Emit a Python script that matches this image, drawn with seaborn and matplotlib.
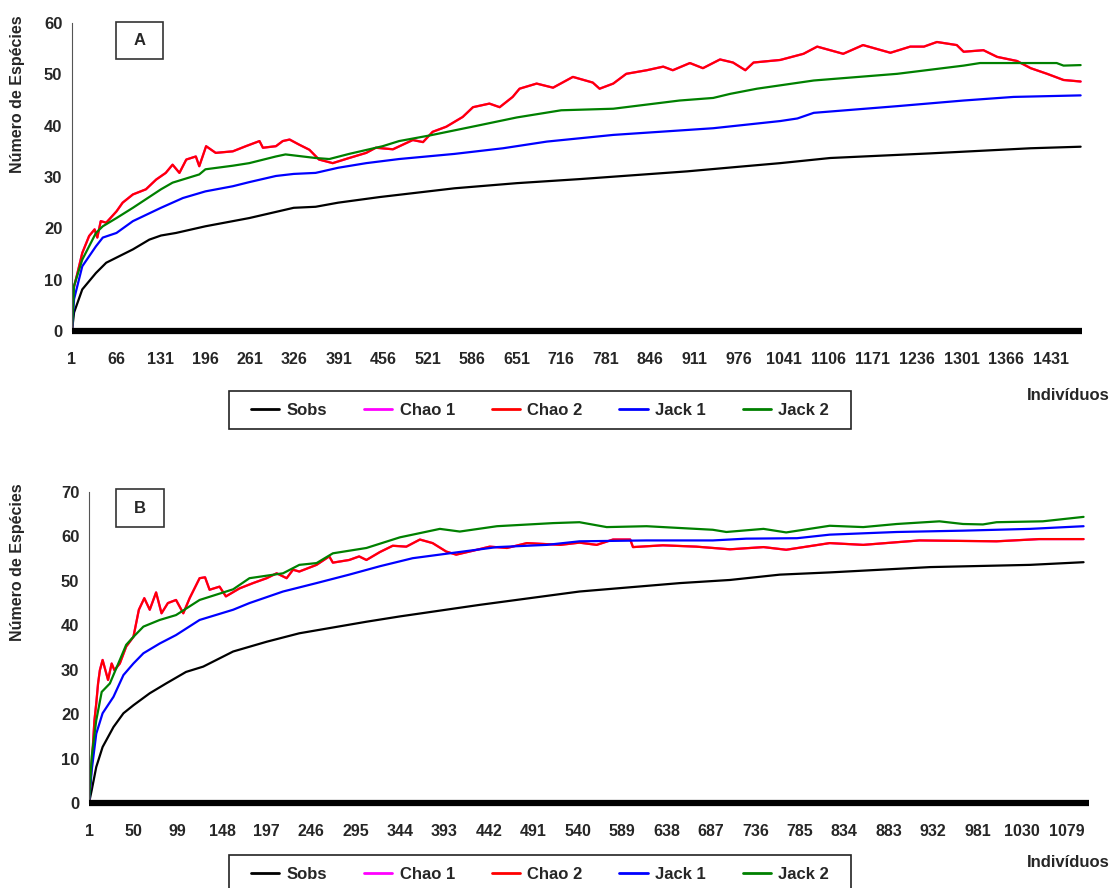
import numpy as np
import pandas as pd
import seaborn as sns
import matplotlib
matplotlib.use("Agg")
from matplotlib import pyplot as plt
from matplotlib import font_manager
from matplotlib.lines import Line2D
from matplotlib.patches import Rectangle

# ---- data ----
series_names = ['Sobs', 'Chao 1', 'Chao 2', 'Jack 1', 'Jack 2']
series_colors = ['#000000', '#FF00FF', '#FF0000', '#0000FF', '#008000']

# panel A
a_sobs_x = [1, 4, 16, 36, 51, 66, 90, 114, 131, 153, 196, 260, 325, 357, 390, 451, 560, 651, 744, 900, 976, 1036, 1109, 1255, 1402, 1475]
a_sobs_y = [0, 3.6, 8.1, 11.3, 13.3, 14.3, 15.9, 17.8, 18.6, 19.1, 20.4, 22.0, 24.0, 24.2, 25.0, 26.1, 27.8, 28.8, 29.6, 31.1, 32.0, 32.7, 33.7, 34.6, 35.6, 35.9]

a_jack1_x = [1, 4, 16, 36, 46, 66, 90, 131, 163, 196, 236, 260, 299, 325, 357, 390, 431, 479, 560, 631, 695, 792, 938, 1036, 1061, 1085, 1207, 1304, 1377, 1475]
a_jack1_y = [0, 6.2, 12.6, 16.5, 18.2, 19.1, 21.4, 24.0, 25.9, 27.2, 28.2, 29.0, 30.2, 30.6, 30.8, 31.8, 32.7, 33.5, 34.5, 35.6, 36.9, 38.2, 39.5, 40.9, 41.4, 42.5, 43.8, 44.9, 45.6, 45.9]

a_jack2_x = [1, 4, 16, 36, 46, 66, 90, 131, 148, 187, 196, 236, 260, 299, 313, 357, 377, 406, 455, 479, 524, 597, 651, 716, 792, 889, 938, 963, 1002, 1085, 1207, 1304, 1328, 1440, 1450, 1475]
a_jack2_y = [0, 8.8, 13.9, 19.1, 20.4, 22.0, 24.0, 27.6, 28.9, 30.5, 31.5, 32.2, 32.7, 34.0, 34.4, 33.7, 33.5, 34.5, 36.0, 37.0, 38.1, 40.1, 41.6, 43.0, 43.3, 44.9, 45.4, 46.2, 47.2, 48.8, 50.1, 51.7, 52.2, 52.2, 51.7, 51.8]

a_chao2_x = [1, 3, 9, 16, 26, 34, 38, 43, 51, 66, 75, 90, 109, 124, 138, 148, 158, 168, 182, 187,
             197, 211, 236, 255, 275, 280, 299, 309, 319, 333, 348, 362, 382, 406, 431, 445, 470, 499, 514, 528,
             548, 572, 587, 611, 626, 645, 655, 680, 704, 733, 762, 772, 792, 811, 841, 865, 879, 904, 923, 948,
             967, 985, 997, 1036, 1070, 1090, 1109, 1128, 1157, 1197, 1226, 1246, 1265, 1294, 1304, 1333, 1353, 1382, 1402, 1426,
             1450, 1475]
a_chao2_y = [0, 8.1, 11.3, 15.2, 18.5, 19.8, 18.2, 21.4, 21.1, 23.3, 25.0, 26.6, 27.6, 29.5, 30.8, 32.4, 30.8, 33.4, 34.0, 32.1,
             36.0, 34.7, 35.0, 36.0, 37.0, 35.7, 36.0, 37.0, 37.3, 36.3, 35.3, 33.4, 32.7, 33.7, 34.7, 35.7, 35.4, 37.2, 36.8, 38.8,
             39.8, 41.7, 43.6, 44.3, 43.6, 45.6, 47.2, 48.2, 47.4, 49.5, 48.4, 47.2, 48.2, 50.1, 50.8, 51.5, 50.8, 52.2, 51.2, 52.9,
             52.3, 50.8, 52.3, 52.8, 54.0, 55.4, 54.7, 54.0, 55.7, 54.2, 55.4, 55.4, 56.3, 55.7, 54.4, 54.7, 53.4, 52.6, 51.2, 50.1,
             48.9, 48.6]
# Chao 1 lies under Chao 2 in the picture
a_chao1_x = a_chao2_x
a_chao1_y = a_chao2_y

# panel B
b_sobs_x = [1, 4, 9, 16, 28, 39, 50, 68, 86, 108, 127, 160, 197, 233, 270, 307, 344, 432, 542, 653, 708, 763, 818, 929, 1039, 1098]
b_sobs_y = [0, 2.9, 8.1, 12.6, 17.1, 20.2, 22.0, 24.7, 26.9, 29.5, 30.7, 34.1, 36.3, 38.2, 39.5, 40.8, 42.0, 44.6, 47.6, 49.5, 50.2, 51.4, 51.9, 53.1, 53.6, 54.2]

b_jack1_x = [1, 4, 9, 16, 28, 39, 50, 61, 79, 97, 123, 160, 178, 215, 252, 288, 322, 358, 395, 451, 506, 542, 616, 689, 726, 782, 818, 892, 965, 1039, 1098]
b_jack1_y = [0, 7.4, 15.6, 20.2, 23.9, 28.8, 31.4, 33.7, 35.9, 37.8, 41.2, 43.5, 45.0, 47.6, 49.5, 51.4, 53.3, 55.1, 56.1, 57.6, 58.1, 58.9, 59.1, 59.1, 59.5, 59.6, 60.4, 61.0, 61.3, 61.7, 62.3]

b_jack2_x = [1, 4, 9, 15, 24, 35, 42, 50, 61, 79, 97, 123, 160, 178, 215, 233, 252, 270, 307, 344,
             358, 388, 410, 451, 513, 542, 572, 616, 689, 704, 745, 770, 818, 855, 892, 939, 965, 987, 1002, 1053, 1098]
b_jack2_y = [0, 10.4, 18.6, 25.0, 26.9, 32.2, 35.6, 37.4, 39.7, 41.2, 42.3, 45.7, 48.1, 50.6, 51.7, 53.6, 54.0, 56.2, 57.4, 59.8,
             60.4, 61.7, 61.1, 62.3, 63.0, 63.2, 62.1, 62.3, 61.5, 61.0, 61.7, 60.9, 62.4, 62.1, 62.8, 63.4, 62.8, 62.7, 63.2, 63.4, 64.4]

b_chao2_x = [1, 2, 5, 7, 9, 11, 13, 16, 20, 22, 26, 29, 35, 42, 50, 56, 62, 68, 75, 81,
             88, 97, 105, 112, 123, 129, 134, 145, 152, 167, 182, 197, 208, 219, 226, 233, 252, 266, 270, 288,
             299, 307, 322, 336, 351, 366, 380, 395, 406, 425, 443, 462, 484, 521, 542, 561, 579, 598, 601, 634,
             671, 708, 745, 770, 818, 855, 917, 1002, 1049, 1098]
b_chao2_y = [0, 2.9, 11.9, 18.6, 22.4, 26.9, 29.9, 32.2, 29.2, 27.7, 31.4, 29.9, 31.4, 35.2, 37.4, 43.5, 46.1, 43.5, 47.4, 42.7,
             45.0, 45.7, 42.7, 46.1, 50.6, 50.8, 48.0, 48.7, 46.5, 48.3, 49.5, 50.6, 51.7, 50.6, 52.5, 52.1, 53.6, 55.5, 54.1, 54.7,
             55.5, 54.7, 56.5, 57.9, 57.7, 59.3, 58.5, 56.6, 55.9, 56.8, 57.7, 57.4, 58.5, 58.1, 58.6, 58.1, 59.3, 59.3, 57.6, 58.0,
             57.7, 57.1, 57.6, 57.0, 58.5, 58.1, 59.1, 58.9, 59.4, 59.4]
b_chao1_x = b_chao2_x
b_chao1_y = b_chao2_y

a_ticks = list(range(1, 1432, 65))
b_ticks = list(range(1, 1080, 49))


def long_frame(parts):
    rows = []
    for name, xs, ys in parts:
        rows.append(pd.DataFrame({'Indivíduos': xs, 'Espécies': ys, 'Estimador': name}))
    return pd.concat(rows, ignore_index=True)


df_a = long_frame([('Sobs', a_sobs_x, a_sobs_y), ('Chao 1', a_chao1_x, a_chao1_y),
                   ('Chao 2', a_chao2_x, a_chao2_y), ('Jack 1', a_jack1_x, a_jack1_y),
                   ('Jack 2', a_jack2_x, a_jack2_y)])
df_b = long_frame([('Sobs', b_sobs_x, b_sobs_y), ('Chao 1', b_chao1_x, b_chao1_y),
                   ('Chao 2', b_chao2_x, b_chao2_y), ('Jack 1', b_jack1_x, b_jack1_y),
                   ('Jack 2', b_jack2_x, b_jack2_y)])

sns.set_style('white')
available = {f.name for f in font_manager.fontManager.ttflist}
narrow = 'Liberation Sans Narrow' if 'Liberation Sans Narrow' in available else 'Liberation Sans'
plt.rcParams['font.family'] = ['Liberation Sans', 'DejaVu Sans']
plt.rcParams['font.weight'] = 'bold'

W, H = 1116, 888
fig = plt.figure(figsize=(W / 100, H / 100), dpi=100)
palette = dict(zip(series_names, series_colors))


def px_axes(left, top, right, bottom):
    return fig.add_axes([left / W, 1 - bottom / H, (right - left) / W, (bottom - top) / H])


def px_rect(x0, y0, x1, y1, color):
    fig.patches.append(Rectangle((x0 / W, 1 - y1 / H), (x1 - x0) / W, (y1 - y0) / H,
                                 transform=fig.transFigure, fill=False, edgecolor=color, linewidth=1.2))


def draw_panel(ax, df, xmax, ymax, ticks, letter, box, ylab_y, xlab_pos, leg_box):
    sns.lineplot(data=df, x='Indivíduos', y='Espécies', hue='Estimador', hue_order=series_names,
                 palette=palette, estimator=None, sort=False, linewidth=1.6, legend=False, ax=ax)
    ax.set_xlim(1, xmax)
    ax.set_ylim(0, ymax)
    ax.axhline(0, color='black', linewidth=4.5, clip_on=False, zorder=5, solid_capstyle='butt')
    for s in ['top', 'right', 'bottom']:
        ax.spines[s].set_visible(False)
    ax.spines['left'].set_color('#555555')
    ax.spines['left'].set_linewidth(0.8)
    ax.set_yticks(range(0, ymax + 1, 10))
    ax.set_xticks(ticks)
    ax.set_xticklabels([str(t) for t in ticks], fontfamily=narrow, fontweight='bold', fontsize=11.5)
    ax.tick_params(axis='y', length=4, width=0.8, color='#555555', labelsize=12, pad=3)
    ax.tick_params(axis='x', length=0, pad=15)
    ax.set_xlabel('')
    ax.set_ylabel('')
    # letter box
    x0, y0, x1, y1 = box
    px_rect(x0, y0, x1, y1, '#333333')
    fig.text((x0 + x1) / 2 / W, 1 - (y0 + y1) / 2 / H, letter, ha='center', va='center',
             fontsize=12, fontweight='bold')
    fig.text(18 / W, 1 - ylab_y / H, 'Número de Espécies', rotation=90, ha='center', va='center',
             fontsize=11.5, fontweight='bold')
    fig.text(xlab_pos[0] / W, 1 - xlab_pos[1] / H, 'Indivíduos', ha='center', va='center',
             fontsize=12, fontweight='bold', fontfamily=narrow)
    # legend in a plain box
    lx0, ly0, lx1, ly1 = leg_box
    px_rect(lx0, ly0, lx1, ly1, '#222222')
    handles = [Line2D([], [], color=c, linewidth=2) for c in series_colors]
    fig.legend(handles, series_names, loc='center',
               bbox_to_anchor=((lx0 + lx1) / 2 / W, 1 - (ly0 + ly1) / 2 / H),
               ncol=5, frameon=False, handlelength=1.7, handletextpad=0.45,
               columnspacing=2.2, borderpad=0.2,
               prop={'family': narrow, 'weight': 'bold', 'size': 12})


ax_a = px_axes(72, 23, 1082, 331)
draw_panel(ax_a, df_a, 1477, 60, a_ticks, 'A', (116, 22, 163, 59), 94, (1068, 395), (229, 391, 851, 429))

ax_b = px_axes(89, 492, 1089, 803)
draw_panel(ax_b, df_b, 1104, 70, b_ticks, 'B', (116, 489, 164, 527), 562, (1068, 862), (229, 855, 851, 893))

fig.savefig('out.png', dpi=100)
